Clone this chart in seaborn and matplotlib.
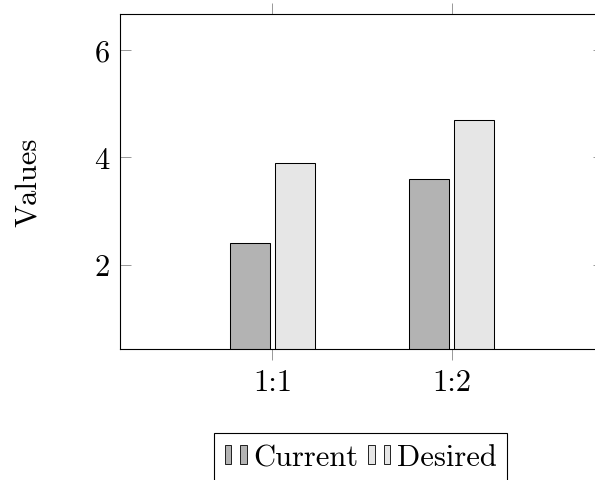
import pandas as pd
import matplotlib
matplotlib.use('Agg')
import matplotlib.pyplot as plt
from matplotlib.patches import Rectangle, Patch
import seaborn as sns

# data
ratios = ['1:1', '1:2']
current = [2.4, 3.6]
desired = [3.9, 4.7]
series_names = ['Current', 'Desired']
colors = ['#b3b3b3', '#e6e6e6']
y_ticks = [2, 4, 6]

df = pd.DataFrame({
    'ratio': ratios * 2,
    'series': [series_names[0]] * len(ratios) + [series_names[1]] * len(ratios),
    'value': current + desired,
})

sns.set_theme(style='ticks')
plt.rcParams['font.family'] = ['cmr10', 'DejaVu Serif']
plt.rcParams['axes.formatter.use_mathtext'] = True
plt.rcParams['mathtext.fontset'] = 'cm'
plt.rcParams['text.color'] = 'black'
plt.rcParams['axes.labelcolor'] = 'black'


class PairHandler:
    """pgfplots style legend image: two small bars"""
    def __init__(self, color):
        self.color = color

    def legend_artist(self, legend, orig_handle, fontsize, handlebox):
        x0, y0 = handlebox.xdescent, handlebox.ydescent
        w, h = handlebox.width, handlebox.height
        bw = w * 0.3
        first = None
        for xx in (0, w * 0.7):
            r = Rectangle((xx - x0, -y0), bw, h, facecolor=self.color,
                          edgecolor='black', linewidth=0.6,
                          transform=handlebox.get_transform())
            handlebox.add_artist(r)
            first = first or r
        return first


fig = plt.figure(figsize=(5.95, 4.81), dpi=100)
ax = fig.add_axes([0.2012, 0.273, 0.8146, 0.6958])

sns.barplot(data=df, x='ratio', y='value', hue='series', palette=colors,
            width=0.504, gap=0.115, edgecolor='black', linewidth=0.75,
            errorbar=None, legend=False, ax=ax)

ax.set_xlim(-0.851, 1.851)
ax.set_ylim(0.437, 6.664)
ax.set_yticks(y_ticks)
ax.set_xlabel('')
ax.set_ylabel('Values', fontsize=22)
ax.yaxis.set_label_coords(-0.16, 0.5)

for s in ax.spines.values():
    s.set_visible(True)
    s.set_color('black')
    s.set_linewidth(0.8)

ax.tick_params(axis='y', direction='in', length=8, width=0.6, color='#888888',
               left=True, right=True, labelsize=22, pad=7, labelcolor='black')
ax.tick_params(axis='x', direction='out', length=8, width=0.6, color='#888888',
               bottom=True, top=True, labelsize=22, pad=6, labelcolor='black')

handles = [Patch(facecolor=c) for c in colors]
fig.legend(handles, series_names, loc='upper left',
           bbox_to_anchor=(214 / 595, 1 - 434 / 481), ncol=2, fontsize=22,
           handler_map={handles[0]: PairHandler(colors[0]),
                        handles[1]: PairHandler(colors[1])},
           handlelength=0.73, handleheight=0.56, handletextpad=0.22,
           columnspacing=0.3, borderpad=0.35, borderaxespad=0,
           frameon=True, fancybox=False, framealpha=1,
           edgecolor='black', facecolor='white')
fig.legends[0].get_frame().set_linewidth(0.8)

fig.savefig('out.png', dpi=100)
